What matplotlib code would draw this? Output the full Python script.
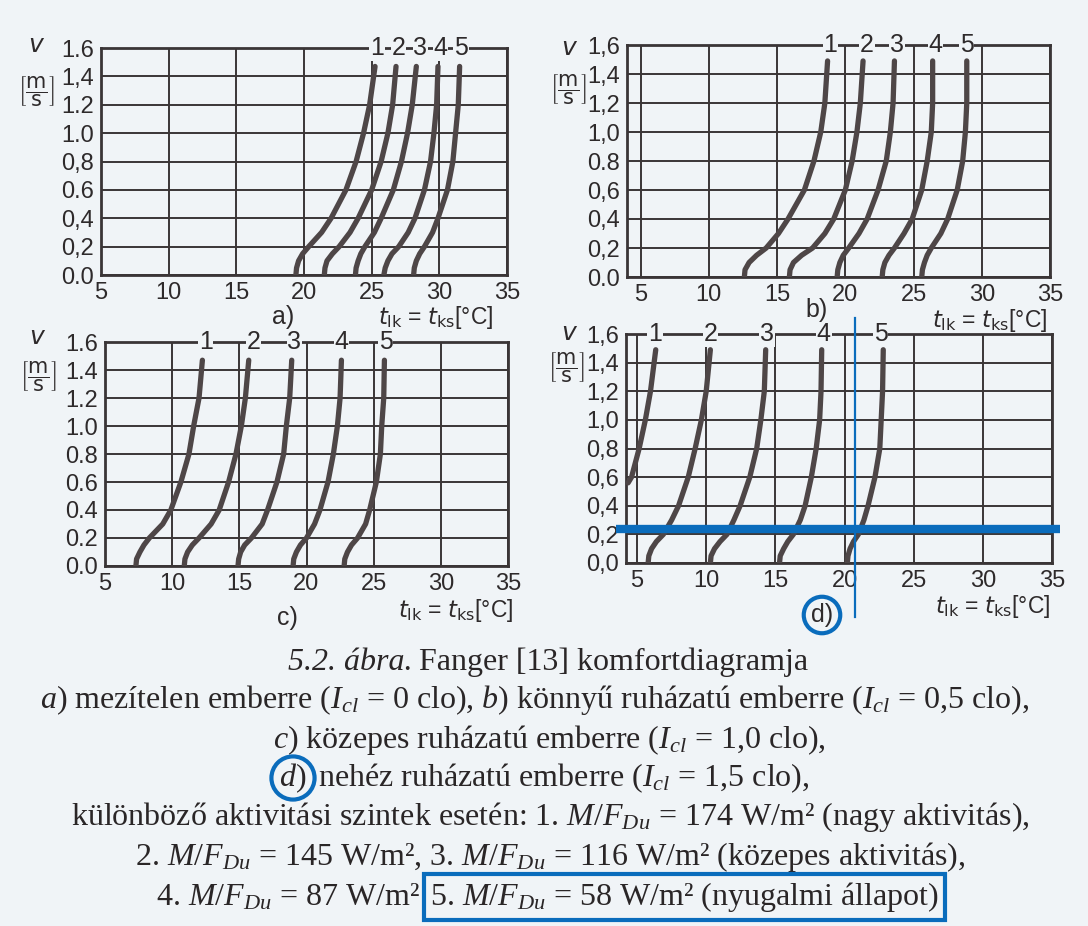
import matplotlib
matplotlib.use('Agg')
import matplotlib.pyplot as plt

W, H = 1088, 926
BG = '#f0f4f7'
GRID = '#3a3536'
CURVE = '#4e4647'
BLUE = '#0a6cbc'
SANS = ['Liberation Sans', 'DejaVu Sans']
SERIF = ['Liberation Serif', 'DejaVu Serif']

plt.rcParams['font.family'] = SANS
plt.rcParams['mathtext.fontset'] = 'custom'
plt.rcParams['mathtext.rm'] = 'Liberation Serif'
plt.rcParams['mathtext.it'] = 'Liberation Serif:italic'
plt.rcParams['mathtext.bf'] = 'Liberation Serif:bold'
plt.rcParams['mathtext.sf'] = 'Liberation Sans'

# ---------------- data ----------------
X_TICKS = [5, 10, 15, 20, 25, 30, 35]
Y_TICKS = [0.0, 0.2, 0.4, 0.6, 0.8, 1.0, 1.2, 1.4, 1.6]
YLAB_A = ['0.0', '0,2', '0,4', '0.6', '0,8', '1.0', '1.2', '1,4', '1.6']
YLAB_B = ['0.0', '0,2', '0,4', '0,6', '0.8', '1,0', '1,2', '1,4', '1,6']
YLAB_C = ['0.0', '0.2', '0.4', '0.6', '0.8', '1.0', '1.2', '1.4', '1.6']
YLAB_D = ['0,0', '0,2', '0,4', '0,6', '0,8', '1,0', '1,2', '1,4', '1,6']
CURVE_NAMES = ['1', '2', '3', '4', '5']

# air velocity levels (m/s) at which temperatures were read
V_A = [0, 0.05, 0.1, 0.15, 0.2, 0.3, 0.4, 0.6, 0.8, 1.0, 1.2, 1.47]
V_B = [0, 0.05, 0.1, 0.15, 0.2, 0.3, 0.4, 0.6, 0.8, 1.0, 1.2, 1.49]
V_C = [0, 0.05, 0.1, 0.15, 0.2, 0.3, 0.4, 0.6, 0.8, 1.0, 1.2, 1.47]
V_D = [0, 0.05, 0.1, 0.15, 0.2, 0.3, 0.4, 0.6, 0.8, 1.0, 1.2, 1.49]
V_D1 = [0.56, 0.6, 0.8, 1.0, 1.2, 1.49]

# a) naked (0 clo)
T_A1 = [19.4, 19.45, 19.6, 19.9, 20.35, 21.3, 22.0, 23.1, 23.85, 24.4, 24.85, 25.25]
T_A2 = [21.5, 21.55, 21.7, 22.1, 22.6, 23.4, 24.0, 25.0, 25.7, 26.2, 26.55, 26.8]
T_A3 = [23.8, 23.85, 24.0, 24.2, 24.5, 25.2, 25.7, 26.6, 27.2, 27.65, 28.0, 28.3]
T_A4 = [25.9, 26.0, 26.2, 26.5, 27.0, 27.7, 28.2, 28.9, 29.35, 29.6, 29.8, 29.9]
T_A5 = [28.1, 28.15, 28.3, 28.55, 28.9, 29.5, 29.9, 30.6, 31.0, 31.2, 31.4, 31.5]
# b) light clothing (0.5 clo)
T_B1 = [12.6, 12.65, 12.95, 13.5, 14.2, 15.1, 15.8, 17.0, 17.7, 18.2, 18.5, 18.7]
T_B2 = [15.9, 15.95, 16.2, 16.8, 17.6, 18.5, 19.15, 20.0, 20.5, 20.85, 21.1, 21.3]
T_B3 = [19.4, 19.45, 19.6, 19.85, 20.25, 21.0, 21.6, 22.4, 23.0, 23.3, 23.5, 23.6]
T_B4 = [22.7, 22.75, 22.9, 23.2, 23.6, 24.3, 24.9, 25.6, 26.0, 26.3, 26.4, 26.4]
T_B5 = [25.6, 25.65, 25.8, 26.0, 26.3, 27.0, 27.5, 28.2, 28.6, 28.8, 28.9, 28.9]
# c) medium clothing (1.0 clo)
T_C1 = [7.3, 7.35, 7.6, 7.9, 8.3, 9.3, 9.9, 10.65, 11.25, 11.6, 12.0, 12.25]
T_C2 = [10.9, 10.95, 11.15, 11.5, 12.0, 12.9, 13.5, 14.2, 14.75, 15.15, 15.45, 15.7]
T_C3 = [14.9, 14.95, 15.1, 15.4, 15.9, 16.7, 17.1, 17.8, 18.3, 18.5, 18.75, 18.9]
T_C4 = [19.0, 19.05, 19.25, 19.55, 20.0, 20.6, 21.0, 21.6, 22.0, 22.3, 22.5, 22.6]
T_C5 = [22.8, 22.85, 23.05, 23.35, 23.8, 24.4, 24.7, 25.2, 25.5, 25.6, 25.75, 25.8]
# d) heavy clothing (1.5 clo)
T_D1 = [4.35, 4.6, 5.15, 5.6, 5.97, 6.35]
T_D2 = [5.8, 5.85, 6.05, 6.4, 6.9, 7.5, 8.0, 8.7, 9.2, 9.65, 10.0, 10.3]
T_D3 = [10.3, 10.35, 10.6, 11.0, 11.5, 12.0, 12.45, 13.15, 13.65, 13.95, 14.2, 14.3]
T_D4 = [15.3, 15.35, 15.6, 15.9, 16.3, 16.8, 17.15, 17.6, 17.95, 18.2, 18.3, 18.35]
T_D5 = [20.2, 20.25, 20.4, 20.65, 21.0, 21.4, 21.7, 22.2, 22.55, 22.65, 22.75, 22.8]

# positions of curve numbers on the top frame (deg C)
LBL_A = [25.4, 27.0, 28.6, 30.1, 31.6]
LBL_B = [18.9, 21.6, 23.8, 26.6, 28.9]
LBL_C = [12.5, 16.05, 19.1, 22.6, 25.9]
LBL_D = [6.3, 10.3, 14.4, 18.5, 22.6]

# highlighted reading in panel d
MARK_V = 0.237
MARK_T = 20.77

# ---------------- drawing ----------------
fig = plt.figure(figsize=(W / 100, H / 100), dpi=100)
fig.patch.set_facecolor(BG)
TXT = '#2e2a2b'


def fx(px):
    return px / W


def fy(py):
    return 1 - py / H


def panel(box, xmin, series, ylabels, lblx):
    l, t, r, b = box
    ax = fig.add_axes([fx(l), fy(b), fx(r - l), (b - t) / H])
    ax.set_facecolor(BG)
    ax.set_xlim(xmin, 35)
    ax.set_ylim(0, 1.6)
    ax.set_xticks(X_TICKS)
    ax.set_xticklabels([str(v) for v in X_TICKS])
    ax.set_yticks(Y_TICKS)
    ax.set_yticklabels(ylabels)
    ax.tick_params(length=0, labelsize=17, colors=TXT, pad=5)
    ax.grid(True, color=GRID, lw=1.4)
    ax.set_axisbelow(True)
    for s in ax.spines.values():
        s.set_color(GRID)
        s.set_linewidth(2.0)
    for xs, ys in series:
        ax.plot(xs, ys, color=CURVE, lw=3.8, solid_capstyle='round',
                solid_joinstyle='round', zorder=3)
    for name, x in zip(CURVE_NAMES, lblx):
        ax.text(x, 1.6, name, ha='center', va='center', fontsize=18,
                color=TXT, zorder=6, clip_on=False,
                bbox=dict(boxstyle='square,pad=0.03', fc=BG, ec='none'))
    return ax


ax_a = panel((101, 48, 507, 275), 5.0,
             [(T_A1, V_A), (T_A2, V_A), (T_A3, V_A), (T_A4, V_A), (T_A5, V_A)],
             YLAB_A, LBL_A)
ax_b = panel((627, 45, 1050, 277), 4.0,
             [(T_B1, V_B), (T_B2, V_B), (T_B3, V_B), (T_B4, V_B), (T_B5, V_B)],
             YLAB_B, LBL_B)
ax_c = panel((105, 342, 508, 566), 5.0,
             [(T_C1, V_C), (T_C2, V_C), (T_C3, V_C), (T_C4, V_C), (T_C5, V_C)],
             YLAB_C, LBL_C)
ax_d = panel((626, 334, 1052, 563), 4.2,
             [(T_D1, V_D1), (T_D2, V_D), (T_D3, V_D), (T_D4, V_D), (T_D5, V_D)],
             YLAB_D, LBL_D)

# axis titles
for (vx, vy), (ux, uy) in [((37, 45), (36, 92)), ((570, 48), (568, 90)),
                           ((38, 337), (38, 377)), ((570, 333), (566, 368))]:
    fig.text(fx(vx), fy(vy), r'$v$', ha='center', va='center', fontsize=18,
             color=TXT, math_fontfamily='dejavusans')
    fig.text(fx(ux), fy(uy), r'$\left[\dfrac{\mathrm{m}}{\mathrm{s}}\right]$',
             ha='center', va='center', fontsize=15, color=TXT,
             math_fontfamily='dejavusans')

XLABEL = r'$t_{\mathrm{lk}}$ = $t_{\mathrm{ks}}$[°C]'
for (x, y) in [(436, 317), (990, 320), (456, 610), (993, 606)]:
    fig.text(fx(x), fy(y), XLABEL, ha='center', va='center', fontsize=16.5,
             color=TXT, math_fontfamily='dejavusans')

for name, (x, y) in [('a)', (283, 317)), ('b)', (817, 310)), ('c)', (287, 618))]:
    fig.text(fx(x), fy(y), name, ha='center', va='center', fontsize=18, color=TXT)
fig.text(fx(822), fy(615), 'd)', ha='center', va='center', fontsize=18, color=TXT,
         bbox=dict(boxstyle='circle,pad=0.25', fc='none', ec=BLUE, lw=3))

# blue reading lines in panel d
ax_d.plot([3.5, 35.6], [MARK_V, MARK_V], color=BLUE, lw=6,
          solid_capstyle='butt', clip_on=False, zorder=7)
ax_d.plot([MARK_T, MARK_T], [1.71, -0.38], color=BLUE, lw=1.6,
          clip_on=False, zorder=7)

# caption
CS = 23
CC = '#2a2627'
MF = r'$\mathit{M/F}_{\mathit{Du}}$'
IC = r'$I_{cl}$'
fig.text(fx(412), fy(662), '5.2. ábra.', style='italic',
         ha='right', va='center', fontsize=CS, family=SERIF, color=CC)
fig.text(fx(419), fy(662), 'Fanger [13] komfortdiagramja',
         ha='left', va='center', fontsize=CS, family=SERIF, color=CC)
fig.text(fx(535), fy(700),
         r'$\mathit{a)}$ mezítelen emberre (' + IC + r' = 0 clo), $\mathit{b)}$ könnyű ruházatú emberre (' + IC + ' = 0,5 clo),',
         ha='center', va='center', fontsize=CS, family=SERIF, color=CC)
fig.text(fx(549), fy(740),
         r'$\mathit{c)}$ közepes ruházatú emberre (' + IC + ' = 1,0 clo),',
         ha='center', va='center', fontsize=CS, family=SERIF, color=CC)
fig.text(fx(293), fy(778), r'$\mathit{d)}$', ha='center', va='center',
         fontsize=CS, family=SERIF, color=CC,
         bbox=dict(boxstyle='circle,pad=0.15', fc='none', ec=BLUE, lw=3))
fig.text(fx(318), fy(778),
         'nehéz ruházatú emberre (' + IC + ' = 1,5 clo),',
         ha='left', va='center', fontsize=CS, family=SERIF, color=CC)
fig.text(fx(550), fy(817),
         'különböző aktivitási szintek esetén: 1. ' + MF + ' = 174 W/m² (nagy aktivitás),',
         ha='center', va='center', fontsize=CS, family=SERIF, color=CC)
fig.text(fx(550), fy(857),
         '2. ' + MF + ' = 145 W/m², 3. ' + MF + ' = 116 W/m² (közepes aktivitás),',
         ha='center', va='center', fontsize=CS, family=SERIF, color=CC)
fig.text(fx(420), fy(897), '4. ' + MF + ' = 87 W/m²',
         ha='right', va='center', fontsize=CS, family=SERIF, color=CC)
fig.text(fx(430), fy(897), '5. ' + MF + ' = 58 W/m² (nyugalmi állapot)',
         ha='left', va='center', fontsize=CS, family=SERIF, color=CC,
         bbox=dict(boxstyle='square,pad=0.2', fc='none', ec=BLUE, lw=3))

fig.savefig('out.png', dpi=100, facecolor=BG)
